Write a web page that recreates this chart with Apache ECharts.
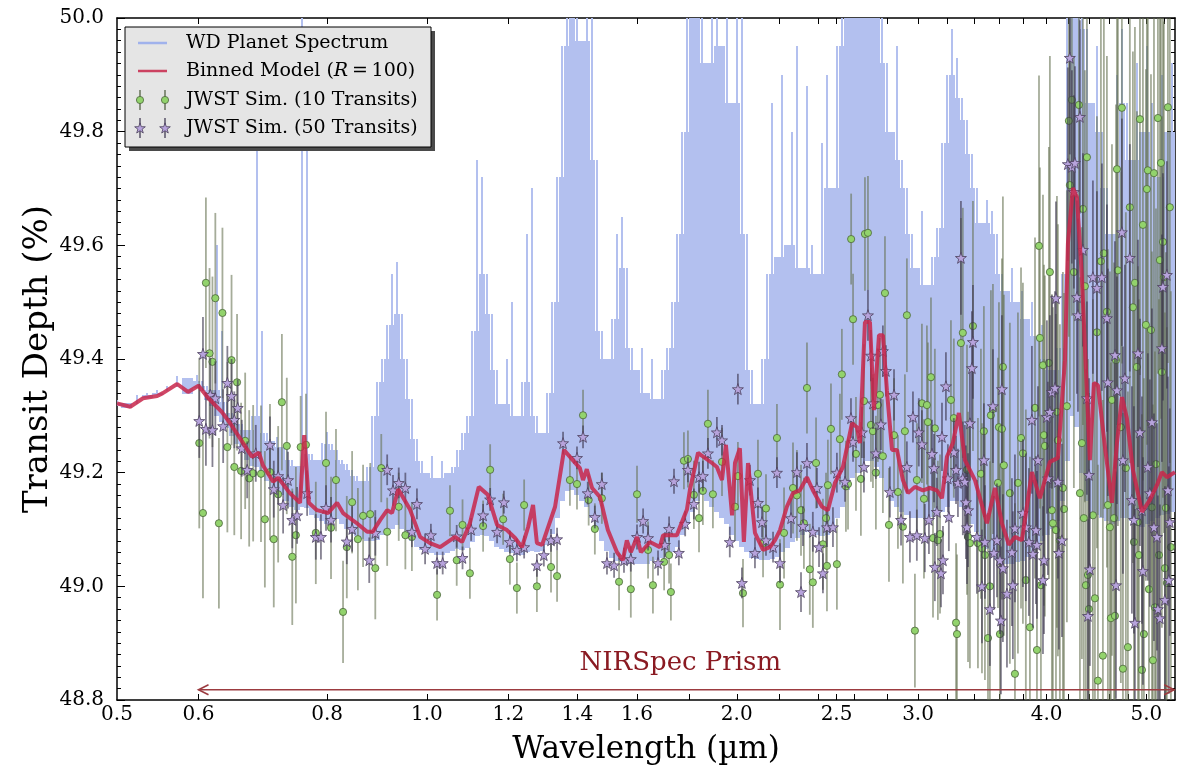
<!DOCTYPE html>
<html>
<head>
<meta charset="utf-8">
<script src="https://cdn.jsdelivr.net/npm/echarts@6/dist/echarts.min.js"></script>
<style>
html,body{margin:0;padding:0;background:#fff}
#chart{width:1180px;height:776px}
</style>
</head>
<body>
<div id="chart"></div>
<script>
// ---------------- data ----------------
// High-resolution planet spectrum: lower edge and spike tops (transit depth, %)
const specWl = [
0.500,0.511,0.523,0.535,0.547,0.559,0.572,0.585,0.598,0.605,
0.612,0.618,0.625,0.632,0.640,0.647,0.654,0.661,0.669,0.676,
0.684,0.692,0.699,0.707,0.715,0.723,0.731,0.740,0.748,0.756,
0.765,0.773,0.782,0.791,0.800,0.809,0.818,0.827,0.836,0.846,
0.855,0.865,0.875,0.885,0.895,0.905,0.915,0.925,0.935,0.946,
0.957,0.967,0.978,0.989,1.000,1.011,1.023,1.034,1.046,1.058,
1.069,1.081,1.094,1.106,1.118,1.131,1.144,1.157,1.170,1.183,
1.196,1.209,1.223,1.237,1.251,1.265,1.279,1.293,1.308,1.323,
1.338,1.353,1.368,1.383,1.399,1.415,1.430,1.447,1.463,1.479,
1.496,1.513,1.530,1.547,1.564,1.582,1.600,1.618,1.636,1.654,
1.673,1.692,1.711,1.730,1.749,1.769,1.789,1.809,1.830,1.850,
1.871,1.892,1.913,1.935,1.956,1.978,2.001,2.023,2.046,2.069,
2.092,2.116,2.140,2.164,2.188,2.213,2.237,2.263,2.288,2.314,
2.340,2.366,2.393,2.420,2.447,2.474,2.502,2.530,2.559,2.588,
2.617,2.646,2.676,2.706,2.736,2.767,2.798,2.830,2.862,2.894,
2.926,2.959,2.992,3.026,3.060,3.095,3.129,3.165,3.200,3.236,
3.273,3.309,3.347,3.384,3.422,3.461,3.500,3.539,3.579,3.619,
3.660,3.701,3.743,3.785,3.827,3.870,3.914,3.958,4.002,4.047,
4.093,4.139,4.185,4.232,4.280,4.328,4.377,4.426,4.476,4.526,
4.577,4.629,4.681,4.733,4.786,4.840,4.895,4.950,5.005,5.062,
5.119,5.176,5.234,5.293
];
const specLo = [
49.318,49.313,49.327,49.331,49.336,49.345,49.352,49.338,49.349,49.344,
49.328,49.318,49.300,49.290,49.278,49.265,49.250,49.236,49.222,49.212,
49.210,49.200,49.186,49.172,49.170,49.160,49.150,49.140,49.135,49.140,
49.138,49.125,49.120,49.115,49.110,49.114,49.118,49.110,49.100,49.092,
49.088,49.084,49.080,49.080,49.082,49.090,49.098,49.100,49.108,49.100,
49.090,49.080,49.070,49.064,49.060,49.058,49.055,49.055,49.058,49.062,
49.066,49.064,49.068,49.078,49.088,49.090,49.088,49.080,49.070,49.065,
49.060,49.058,49.055,49.055,49.060,49.062,49.060,49.062,49.072,49.092,
49.120,49.150,49.168,49.170,49.160,49.150,49.140,49.120,49.100,49.080,
49.062,49.050,49.045,49.042,49.040,49.040,49.040,49.040,49.040,49.044,
49.046,49.050,49.055,49.060,49.070,49.090,49.110,49.130,49.150,49.160,
49.150,49.140,49.130,49.120,49.110,49.090,49.080,49.070,49.060,49.050,
49.048,49.046,49.046,49.048,49.052,49.060,49.068,49.078,49.085,49.090,
49.095,49.095,49.090,49.088,49.090,49.100,49.120,49.140,49.170,49.190,
49.200,49.210,49.220,49.220,49.210,49.190,49.170,49.150,49.140,49.130,
49.125,49.120,49.120,49.120,49.120,49.122,49.125,49.130,49.140,49.150,
49.150,49.140,49.130,49.110,49.095,49.080,49.065,49.055,49.048,49.042,
49.040,49.040,49.042,49.045,49.052,49.060,49.070,49.080,49.090,49.100,
49.115,49.150,49.220,49.300,49.280,49.200,49.150,49.130,49.125,49.120,
49.115,49.110,49.115,49.120,49.120,49.115,49.110,49.105,49.110,49.115,
49.120,49.125,49.128,49.130
];
const specHi = [
49.328,49.322,49.337,49.341,49.346,49.352,49.370,49.366,49.372,49.362,
49.352,49.345,49.600,49.450,49.325,49.305,49.295,49.285,49.275,49.300,
49.800,49.450,49.270,49.255,49.262,49.245,49.252,49.222,49.212,50.050,
49.800,49.232,49.222,49.252,49.272,49.250,49.240,49.222,49.215,49.205,
49.195,49.185,49.210,49.300,49.360,49.400,49.460,49.550,49.570,49.480,
49.400,49.330,49.260,49.220,49.200,49.230,49.190,49.220,49.200,49.210,
49.240,49.270,49.300,49.450,49.750,49.720,49.550,49.480,49.380,49.320,
49.400,49.500,49.300,49.360,49.620,49.700,49.300,49.270,49.340,49.500,
49.720,49.950,50.050,50.050,50.050,49.960,50.050,50.050,49.750,49.450,
49.400,49.470,49.620,49.650,49.560,49.420,49.380,49.420,49.340,49.400,
49.330,49.380,49.420,49.500,49.620,49.800,50.050,50.050,50.050,50.050,
49.920,50.050,50.050,49.950,50.050,49.850,50.050,50.050,49.620,49.380,
49.320,49.400,49.550,49.850,49.580,49.900,49.600,49.800,49.950,49.560,
49.880,49.600,49.550,49.780,49.900,49.700,49.950,50.050,50.050,50.050,
50.050,50.050,50.050,50.050,50.050,50.050,49.920,49.800,49.950,49.750,
49.700,49.620,49.560,49.660,49.530,49.580,49.630,49.780,49.900,49.980,
49.930,49.860,49.820,49.760,49.700,49.640,49.680,49.660,49.620,49.550,
49.520,49.560,49.500,49.520,49.470,49.500,49.440,49.460,49.400,49.380,
49.420,49.550,50.050,50.050,50.050,50.050,49.980,49.850,49.950,49.800,
49.700,49.620,49.900,49.980,49.850,49.750,49.920,49.800,49.950,49.850,
49.720,49.900,49.800,49.920
];

// Model binned to R = 100
const modelWl = [
0.500,0.515,0.530,0.547,0.554,0.572,0.586,0.600,0.612,0.625,
0.632,0.644,0.663,0.676,0.687,0.693,0.709,0.717,0.736,0.753,
0.760,0.768,0.782,0.802,0.818,0.829,0.855,0.875,0.886,0.901,
0.915,0.925,0.938,0.963,0.985,1.007,1.030,1.053,1.065,1.082,
1.101,1.123,1.146,1.170,1.196,1.218,1.237,1.254,1.268,1.279,
1.294,1.332,1.359,1.386,1.408,1.418,1.430,1.447,1.473,1.499,
1.530,1.550,1.564,1.578,1.600,1.614,1.647,1.684,1.696,1.749,
1.761,1.789,1.801,1.834,1.892,1.913,1.935,1.952,1.979,1.992,
2.014,2.032,2.051,2.083,2.121,2.154,2.178,2.203,2.237,2.268,
2.303,2.340,2.371,2.420,2.452,2.491,2.536,2.588,2.617,2.634,
2.664,2.694,2.718,2.749,2.773,2.798,2.830,2.862,2.900,2.933,
2.979,3.033,3.081,3.129,3.165,3.200,3.243,3.287,3.332,3.407,
3.500,3.563,3.619,3.676,3.726,3.785,3.870,3.940,4.029,4.102,
4.167,4.195,4.242,4.280,4.328,4.377,4.406,4.446,4.486,4.557,
4.629,4.681,4.734,4.786,4.851,4.950,5.039,5.119,5.176,5.234,
5.330
];
const modelDepth = [
49.322,49.316,49.331,49.335,49.340,49.356,49.342,49.353,49.333,49.316,
49.307,49.287,49.252,49.228,49.235,49.213,49.184,49.191,49.164,49.147,
49.266,49.147,49.134,49.129,49.147,49.129,49.111,49.096,49.096,49.117,
49.134,49.129,49.171,49.135,49.087,49.076,49.069,49.081,49.087,49.078,
49.111,49.175,49.161,49.108,49.099,49.085,49.069,49.104,49.143,49.076,
49.073,49.140,49.240,49.222,49.208,49.187,49.206,49.173,49.157,49.099,
49.060,49.046,49.081,49.060,49.087,49.060,49.078,49.069,49.090,49.090,
49.104,49.135,49.170,49.235,49.217,49.210,49.187,49.249,49.125,49.217,
49.243,49.078,49.217,49.094,49.064,49.069,49.081,49.099,49.140,49.164,
49.169,49.192,49.169,49.140,49.134,49.182,49.210,49.287,49.280,49.252,
49.465,49.465,49.310,49.442,49.442,49.345,49.240,49.240,49.187,49.164,
49.175,49.169,49.173,49.169,49.155,49.228,49.252,49.305,49.222,49.187,
49.111,49.173,49.111,49.073,49.087,49.081,49.201,49.155,49.219,49.226,
49.398,49.604,49.701,49.685,49.544,49.340,49.222,49.358,49.354,49.245,
49.147,49.252,49.333,49.296,49.205,49.131,49.152,49.178,49.201,49.192,
49.201
];

// Simulated JWST points, 10 transits: [wavelength, depth]
const sim10 = [
[0.601,49.252],[0.606,49.129],[0.610,49.534],[0.615,49.410],[0.619,49.395],[0.623,49.507],[0.628,49.111],[0.633,49.481],
[0.640,49.245],[0.646,49.398],[0.650,49.210],[0.654,49.359],[0.660,49.203],[0.666,49.256],[0.672,49.190],[0.678,49.199],
[0.690,49.198],[0.696,49.118],[0.704,49.201],[0.710,49.083],[0.717,49.162],[0.723,49.324],[0.731,49.247],[0.740,49.052],
[0.746,49.090],[0.754,49.245],[0.763,49.249],[0.780,49.094],[0.798,49.217],[0.807,49.103],[0.816,49.187],[0.829,48.955],
[0.836,49.069],[0.846,49.148],[0.857,49.083],[0.867,49.124],[0.881,49.127],[0.891,49.032],[0.903,49.208],[0.915,49.096],
[0.939,49.140],[0.953,49.090],[0.967,49.087],[1.023,48.985],[1.053,49.133],[1.069,49.046],[1.083,49.108],[1.101,49.023],
[1.134,49.106],[1.152,49.205],[1.186,49.118],[1.204,49.048],[1.223,48.997],[1.243,49.143],[1.279,49.000],[1.320,49.034],
[1.338,49.018],[1.377,49.187],[1.399,49.180],[1.418,49.301],[1.436,49.152],[1.456,49.101],[1.479,49.155],[1.537,49.008],
[1.578,48.995],[1.600,49.162],[1.640,49.064],[1.658,49.002],[1.700,49.043],[1.719,49.055],[1.726,48.990],[1.777,49.221],
[1.793,49.224],[1.817,49.161],[1.838,49.120],[1.854,49.168],[1.875,49.286],[1.896,49.162],[1.935,49.219],[1.992,49.140],
[2.005,49.194],[2.028,48.988],[2.097,49.198],[2.121,49.076],[2.135,49.137],[2.188,49.261],[2.203,49.003],[2.223,49.094],
[2.268,49.173],[2.288,49.160],[2.309,49.134],[2.324,49.111],[2.340,49.349],[2.355,49.030],[2.371,49.007],[2.388,49.217],
[2.425,49.074],[2.442,49.120],[2.447,49.036],[2.452,49.178],[2.469,49.277],[2.502,49.039],[2.519,49.259],[2.530,49.373],
[2.553,49.176],[2.565,49.180],[2.583,49.611],[2.594,49.470],[2.611,49.233],[2.640,49.189],[2.658,49.326],[2.664,49.620],
[2.682,49.622],[2.700,49.284],[2.712,49.273],[2.730,49.200],[2.742,49.319],[2.755,49.337],[2.773,49.229],[2.786,49.516],
[2.811,49.108],[2.843,49.266],[2.868,49.166],[2.900,49.105],[2.913,49.273],[2.926,49.477],[2.979,48.922],[2.992,49.187],
[3.026,49.322],[3.040,49.154],[3.060,49.319],[3.067,49.289],[3.088,49.368],[3.102,49.085],[3.115,49.278],[3.136,49.081],
[3.151,49.092],[3.229,49.328],[3.250,49.296],[3.266,48.936],[3.273,48.916],[3.302,49.428],[3.316,49.446],[3.347,49.205],
[3.355,49.087],[3.369,49.076],[3.392,49.458],[3.430,49.076],[3.453,49.198],[3.461,49.067],[3.476,49.273],[3.484,49.055],
[3.508,48.909],[3.523,49.000],[3.531,49.301],[3.547,49.312],[3.587,49.182],[3.595,49.280],[3.603,48.916],[3.619,49.277],
[3.627,49.386],[3.635,49.213],[3.684,49.164],[3.726,48.846],[3.751,49.182],[3.777,49.261],[3.793,49.234],[3.818,49.011],
[3.853,48.928],[3.897,49.314],[3.914,48.888],[3.932,49.599],[3.940,49.437],[3.949,49.002],[3.967,49.389],[3.976,49.266],
[3.984,49.247],[4.020,49.393],[4.029,49.553],[4.047,49.134],[4.056,49.111],[4.084,49.099],[4.093,49.307],[4.102,49.257],
[4.120,49.081],[4.148,49.173],[4.158,49.136],[4.185,49.317],[4.204,49.819],[4.213,49.706],[4.232,49.856],[4.251,49.553],
[4.299,49.847],[4.309,49.164],[4.328,49.252],[4.338,49.664],[4.347,49.120],[4.357,49.528],[4.367,49.002],[4.377,49.755],
[4.387,49.020],[4.397,48.960],[4.436,49.125],[4.456,48.979],[4.476,49.447],[4.486,48.834],[4.516,49.572],[4.536,48.878],
[4.546,49.586],[4.577,49.483],[4.587,49.143],[4.608,49.104],[4.618,48.944],[4.629,49.328],[4.650,49.120],[4.660,48.948],
[4.671,49.398],[4.681,49.734],[4.691,49.556],[4.722,49.280],[4.733,49.842],[4.744,48.855],[4.775,49.208],[4.797,48.893],
[4.818,49.667],[4.851,49.491],[4.862,49.078],[4.873,49.534],[4.895,49.386],[4.906,49.113],[4.917,49.055],[4.928,49.822],
[4.950,48.853],[4.961,49.636],[4.972,48.916],[4.994,49.460],[5.005,49.699],[5.016,49.732],[5.028,48.995],[5.051,49.451],
[5.062,49.139],[5.073,48.870],[5.085,49.727],[5.096,48.963],[5.108,49.215],[5.130,49.824],[5.142,49.055],[5.153,49.574],
[5.165,49.745],[5.176,49.377],[5.188,49.606],[5.199,49.544],[5.211,49.032],[5.222,49.138],[5.234,49.006],[5.246,49.843],
[5.269,49.667],[5.281,49.069]
];

// Simulated JWST points, 50 transits: [wavelength, depth]
const sim50 = [
[0.601,49.291],[0.606,49.409],[0.610,49.277],[0.616,49.337],[0.619,49.275],[0.623,49.331],[0.634,49.282],[0.640,49.358],
[0.646,49.335],[0.650,49.293],[0.655,49.314],[0.661,49.243],[0.669,49.205],[0.682,49.234],[0.704,49.249],[0.710,49.171],
[0.717,49.194],[0.725,49.143],[0.733,49.187],[0.740,49.117],[0.748,49.125],[0.765,49.164],[0.780,49.087],[0.789,49.087],
[0.798,49.138],[0.807,49.117],[0.836,49.079],[0.846,49.101],[0.879,49.046],[0.891,49.094],[0.915,49.205],[0.927,49.169],
[0.939,49.182],[0.953,49.173],[0.967,49.096],[0.978,49.145],[0.996,49.066],[1.009,49.090],[1.023,49.041],[1.036,49.041],
[1.069,49.088],[1.083,49.050],[1.104,49.100],[1.134,49.125],[1.152,49.153],[1.170,49.096],[1.188,49.148],[1.204,49.078],
[1.223,49.064],[1.243,49.069],[1.279,49.037],[1.299,49.055],[1.320,49.081],[1.338,49.083],[1.356,49.252],[1.399,49.226],
[1.418,49.263],[1.433,49.164],[1.456,49.122],[1.479,49.180],[1.496,49.041],[1.520,49.037],[1.554,49.046],[1.578,49.048],
[1.600,49.087],[1.622,49.115],[1.640,49.085],[1.677,49.041],[1.703,49.073],[1.719,49.101],[1.738,49.185],[1.757,49.059],
[1.782,49.110],[1.793,49.205],[1.817,49.145],[1.838,49.192],[1.854,49.194],[1.875,49.234],[1.913,49.271],[1.935,49.257],
[1.969,49.078],[2.005,49.347],[2.023,49.006],[2.060,49.187],[2.083,49.059],[2.097,49.147],[2.116,49.113],[2.135,49.081],
[2.169,49.069],[2.188,49.200],[2.203,49.041],[2.258,49.120],[2.288,49.201],[2.309,48.990],[2.319,49.106],[2.340,49.217],
[2.371,49.096],[2.393,49.173],[2.404,49.069],[2.425,49.023],[2.447,49.104],[2.480,49.104],[2.502,49.200],[2.548,49.184],
[2.582,49.296],[2.594,49.254],[2.646,49.271],[2.658,49.210],[2.682,49.477],[2.700,49.406],[2.712,49.322],[2.730,49.234],
[2.761,49.285],[2.773,49.414],[2.792,49.379],[2.817,49.166],[2.843,49.337],[2.888,49.117],[2.926,49.210],[2.946,49.087],
[2.966,49.298],[2.992,49.090],[3.005,49.271],[3.026,49.250],[3.046,49.085],[3.074,49.117],[3.095,49.233],[3.109,49.208],
[3.115,49.034],[3.129,49.131],[3.158,49.023],[3.165,49.263],[3.172,49.046],[3.193,49.352],[3.207,49.190],[3.214,49.122],
[3.250,49.236],[3.266,49.205],[3.280,49.182],[3.302,49.578],[3.316,49.190],[3.331,49.184],[3.339,49.148],[3.347,49.104],
[3.355,49.134],[3.369,49.287],[3.384,49.384],[3.392,49.430],[3.422,49.087],[3.461,49.000],[3.476,49.222],[3.484,49.078],
[3.523,48.960],[3.547,49.317],[3.555,49.059],[3.579,49.081],[3.603,49.046],[3.611,48.940],[3.619,49.347],[3.627,49.032],
[3.660,48.987],[3.701,49.060],[3.709,49.002],[3.726,49.102],[3.793,49.129],[3.818,49.104],[3.844,49.078],[3.870,49.293],
[3.879,49.057],[3.905,49.099],[3.914,49.073],[3.923,49.222],[3.967,49.011],[3.976,49.046],[4.002,49.298],[4.011,49.190],
[4.029,49.307],[4.047,49.342],[4.075,49.349],[4.084,49.507],[4.102,49.184],[4.111,49.059],[4.139,49.081],[4.194,49.743],
[4.213,49.930],[4.232,49.738],[4.251,49.694],[4.261,49.745],[4.280,49.509],[4.290,49.477],[4.309,49.826],[4.338,49.592],
[4.377,49.331],[4.387,48.948],[4.397,49.196],[4.406,49.030],[4.436,49.544],[4.476,49.525],[4.526,49.544],[4.577,49.472],
[4.587,49.359],[4.660,49.407],[4.671,49.002],[4.681,49.345],[4.733,49.623],[4.744,49.222],[4.765,49.366],[4.818,49.578],
[4.840,49.152],[4.862,49.117],[4.873,48.936],[4.906,49.410],[4.928,49.271],[4.950,49.134],[4.961,49.027],[5.016,49.210],
[5.039,49.164],[5.062,49.289],[5.085,49.104],[5.119,49.087],[5.130,48.960],[5.153,48.944],[5.176,49.419],[5.188,49.527],
[5.211,48.976],[5.234,49.548],[5.246,49.169],[5.257,49.011],[5.269,49.113]
];

// 1-sigma uncertainty per wavelength band (upper band edges in µm)
const errBandEdges = [0.65, 0.75, 0.90, 1.00, 1.50, 1.80, 2.20, 2.60, 3.00, 3.30, 3.60, 4.00, 4.50, 6.00];
const sim10Err =     [0.150,0.120,0.090,0.060,0.045,0.050,0.060,0.080,0.100,0.140,0.220,0.300,0.380,0.450];
const sim50Err =     [0.065,0.050,0.040,0.027,0.020,0.022,0.027,0.035,0.045,0.060,0.100,0.130,0.170,0.200];

// Axis ticks and labels (µm)
const xLabelValues = [0.5, 0.6, 0.8, 1.0, 1.2, 1.4, 1.6, 2.0, 2.5, 3.0, 4.0, 5.0];
const xTickValues = [0.6,0.8,1.0,1.2,1.4,1.6,1.8,2.0,2.2,2.4,2.5,2.6,2.8,3.0,3.2,3.4,3.6,3.8,4.0,4.2,4.4,4.6,4.8,5.0,5.2];
const X_MIN = 0.5, X_MAX = 5.33;
const Y_MIN = 48.8, Y_MAX = 50.0, Y_STEP = 0.2;

// Instrument coverage annotation
const prismRange = [0.6, 5.32];
const prismArrowDepth = 48.818;
const prismLabelDepth = 48.864;
const prismLabel = 'NIRSpec Prism';

// Legend entries
const legendLabels = ['WD Planet Spectrum', 'Binned Model ({i|R}\u2009=\u2009100)', 'JWST Sim. (10 Transits)', 'JWST Sim. (50 Transits)'];

// ---------------- styling ----------------
const FONT = 'DejaVu Serif';
const SPEC_COLOR = 'rgb(179,192,239)';
const MODEL_COLOR = 'rgba(200,38,74,0.85)';
const G_FILL = '#92d36c', G_EDGE = '#4b633c', G_BAR = 'rgba(100,112,80,0.58)';
const S_FILL = '#b7a3dc', S_EDGE = '#4a3f5c', S_BAR = 'rgba(58,52,76,0.62)';
const ARROW_COLOR = '#9c3b40';
const LABEL_RED = '#8a1a22';
const STAR = [[0,-1],[0.235,-0.324],[0.951,-0.309],[0.38,0.124],[0.588,0.809],[0,0.4],[-0.588,0.809],[-0.38,0.124],[-0.951,-0.309],[-0.235,-0.324]];
const STAR_PATH = 'path://' + STAR.map((p, i) => (i ? 'L' : 'M') + (p[0] * 10).toFixed(2) + ',' + (p[1] * 10).toFixed(2)).join('') + 'Z';

const ln = Math.log;
const clampY = v => Math.max(Y_MIN, Math.min(Y_MAX, v));
function bandErr(wl, table) {
  for (let i = 0; i < errBandEdges.length; i++) if (wl < errBandEdges[i]) return table[i];
  return table[table.length - 1];
}

// spectrum columns: [x, lo, hi, solid-core top, x of previous, x of next]
const specData = specWl.map((w, i) => {
  const n = specWl.length;
  const hPrev = i > 0 ? specHi[i - 1] : specHi[i];
  const hNext = i < n - 1 ? specHi[i + 1] : specHi[i];
  const core = Math.min(specHi[i], hPrev, hNext);
  return [ln(w), specLo[i], specHi[i], core, ln(i > 0 ? specWl[i - 1] : w), ln(i < n - 1 ? specWl[i + 1] : w)];
});
const modelData = modelWl.map((w, i) => [ln(w), modelDepth[i]]);
const sim10Pts = sim10.map(p => [ln(p[0]), p[1]]);
const sim50Pts = sim50.map(p => [ln(p[0]), p[1]]);
const sim10Bars = sim10.map(p => [ln(p[0]), p[1], bandErr(p[0], sim10Err)]);
const sim50Bars = sim50.map(p => [ln(p[0]), p[1], bandErr(p[0], sim50Err)]);

function renderSpectrum(params, api) {
  const x = api.coord([api.value(0), Y_MIN])[0];
  const xp = api.coord([api.value(4), Y_MIN])[0];
  const xn = api.coord([api.value(5), Y_MIN])[0];
  let hl = (x - xp) / 2, hr = (xn - x) / 2;
  if (!(hl > 0)) hl = hr;
  if (!(hr > 0)) hr = hl;
  const yLo = api.coord([api.value(0), clampY(api.value(1))])[1];
  const yHi = api.coord([api.value(0), clampY(api.value(2))])[1];
  const yCore = api.coord([api.value(0), clampY(api.value(3))])[1];
  // snap to whole pixels so neighbouring columns join without seams
  const x0 = Math.floor(x - hl), x1 = Math.ceil(x + hr);
  const children = [{
    type: 'rect',
    shape: { x: x0, y: Math.round(yCore), width: x1 - x0, height: Math.max(0, Math.round(yLo) - Math.round(yCore)) },
    style: { fill: SPEC_COLOR }
  }];
  if (yHi < yCore - 0.5) {
    const sx = Math.round(x - 1);
    children.push({ type: 'rect', shape: { x: sx, y: Math.round(yHi), width: 2, height: Math.round(yCore) - Math.round(yHi) + 1 }, style: { fill: SPEC_COLOR } });
  }
  return { type: 'group', children };
}

function errorBarRenderer(color) {
  return function (params, api) {
    const x = api.value(0), y = api.value(1), e = api.value(2);
    const p0 = api.coord([x, clampY(y - e)]);
    const p1 = api.coord([x, clampY(y + e)]);
    return { type: 'line', shape: { x1: p0[0], y1: p0[1], x2: p1[0], y2: p1[1] }, style: { stroke: color, lineWidth: 1.8 } };
  };
}

function renderPrism(params, api) {
  const p0 = api.coord([api.value(0), api.value(2)]);
  const p1 = api.coord([api.value(1), api.value(2)]);
  const pt = api.coord([(api.value(0) + api.value(1)) / 2, api.value(3)]);
  const h = 10, v = 5;
  const st = { stroke: ARROW_COLOR, lineWidth: 1.6, fill: null };
  return {
    type: 'group',
    children: [
      { type: 'line', shape: { x1: p0[0], y1: p0[1], x2: p1[0], y2: p1[1] }, style: st },
      { type: 'polyline', shape: { points: [[p0[0] + h, p0[1] - v], [p0[0], p0[1]], [p0[0] + h, p0[1] + v]] }, style: st },
      { type: 'polyline', shape: { points: [[p1[0] - h, p1[1] - v], [p1[0], p1[1]], [p1[0] - h, p1[1] + v]] }, style: st },
      { type: 'text', x: pt[0] - 6, y: pt[1],
        style: { text: prismLabel, fill: LABEL_RED, font: '26px "' + FONT + '"', align: 'center', verticalAlign: 'middle', textAlign: 'center', textVerticalAlign: 'middle' } }
    ]
  };
}

// ---------------- legend (drawn as graphic) ----------------
function legendGraphic() {
  const L = 125, T = 27, W = 306, H = 120;
  const rows = [43, 71, 100, 128];
  const hx0 = 138, hx1 = 167, tx = 186;
  const els = [
    { type: 'rect', shape: { x: L + 4, y: T + 4, width: W, height: H }, style: { fill: '#4a4a4a' }, z: 100 },
    { type: 'rect', shape: { x: L, y: T, width: W, height: H }, style: { fill: '#e5e5e5', stroke: '#000', lineWidth: 1 }, z: 101 },
    { type: 'line', shape: { x1: hx0, y1: rows[0], x2: hx1, y2: rows[0] }, style: { stroke: 'rgb(160,178,236)', lineWidth: 2.5 }, z: 102 },
    { type: 'line', shape: { x1: hx0, y1: rows[1], x2: hx1, y2: rows[1] }, style: { stroke: MODEL_COLOR, lineWidth: 2.5 }, z: 102 }
  ];
  [hx0 + 2, hx1 - 2].forEach(cx => {
    els.push({ type: 'line', shape: { x1: cx, y1: rows[2] - 10, x2: cx, y2: rows[2] + 10 }, style: { stroke: 'rgba(80,95,65,0.8)', lineWidth: 1.6 }, z: 102 });
    els.push({ type: 'circle', shape: { cx: cx, cy: rows[2], r: 3.6 }, style: { fill: G_FILL, stroke: G_EDGE, lineWidth: 0.8 }, z: 103 });
    els.push({ type: 'line', shape: { x1: cx, y1: rows[3] - 10, x2: cx, y2: rows[3] + 10 }, style: { stroke: 'rgba(62,55,80,0.8)', lineWidth: 1.6 }, z: 102 });
    els.push({ type: 'polygon', shape: { points: STAR.map(p => [cx + p[0] * 5.6, rows[3] + p[1] * 5.6 + 0.5]) }, style: { fill: S_FILL, stroke: S_EDGE, lineWidth: 0.8 }, z: 103 });
  });
  legendLabels.forEach((t, i) => {
    els.push({
      type: 'text', x: tx, y: rows[i], z: 104,
      style: {
        text: t, fill: '#000', font: '19px "' + FONT + '"', verticalAlign: 'middle', textVerticalAlign: 'middle',
        rich: { i: { fontStyle: 'italic', fontFamily: FONT, fontSize: 19, fill: '#000' } }
      }
    });
  });
  return els;
}

// ---------------- chart ----------------
const axisLineStyle = { color: '#000', width: 1.5 };
const baseX = {
  type: 'value', min: ln(X_MIN), max: ln(X_MAX),
  axisLine: { show: true, onZero: false, lineStyle: axisLineStyle },
  axisTick: { show: true, inside: true, length: 6, lineStyle: { color: '#000', width: 1 }, customValues: xTickValues.map(ln) },
  splitLine: { show: false }
};
const baseY = {
  type: 'value', min: Y_MIN, max: Y_MAX, interval: Y_STEP,
  axisLine: { show: true, onZero: false, lineStyle: axisLineStyle },
  axisTick: { show: true, inside: true, length: 8, lineStyle: { color: '#000', width: 1 } },
  minorTick: { show: true, splitNumber: 10, length: 4, lineStyle: { color: '#000', width: 1 } },
  splitLine: { show: false }, minorSplitLine: { show: false }
};

const chart = echarts.init(document.getElementById('chart'), null, { renderer: 'canvas' });
chart.setOption({
  animation: false,
  backgroundColor: '#fff',
  grid: { left: 117, right: 5, top: 18, bottom: 76, containLabel: false },
  xAxis: [
    Object.assign({}, baseX, {
      position: 'bottom',
      axisLabel: { show: true, customValues: xLabelValues.map(ln), formatter: v => Math.exp(v).toFixed(1),
        color: '#000', fontFamily: FONT, fontSize: 20, margin: 5 },
      name: 'Wavelength (\u00b5m)', nameLocation: 'middle', nameGap: 34,
      nameTextStyle: { color: '#000', fontFamily: FONT, fontSize: 31 }
    }),
    Object.assign({}, baseX, { position: 'top', axisLabel: { show: false } })
  ],
  yAxis: [
    Object.assign({}, baseY, {
      position: 'left',
      axisLabel: { color: '#000', fontFamily: FONT, fontSize: 20, margin: 13, formatter: v => v.toFixed(1) },
      name: 'Transit Depth (%)', nameLocation: 'middle', nameGap: 62, nameMoveOverlap: false,
      nameTextStyle: { color: '#000', fontFamily: FONT, fontSize: 34 }
    }),
    Object.assign({}, baseY, { position: 'right', axisLabel: { show: false } })
  ],
  series: [
    { name: 'WD Planet Spectrum', type: 'custom', renderItem: renderSpectrum, data: specData,
      encode: { x: 0, y: 1 }, clip: true, silent: true, z: 1 },
    { name: 'sim10 bars', type: 'custom', renderItem: errorBarRenderer(G_BAR), data: sim10Bars,
      encode: { x: 0, y: 1 }, clip: true, silent: true, z: 2 },
    { name: 'JWST Sim. (10 Transits)', type: 'scatter', data: sim10Pts, symbol: 'circle', symbolSize: 7.2,
      itemStyle: { color: G_FILL, borderColor: G_EDGE, borderWidth: 0.8, opacity: 1 }, silent: true, z: 3 },
    { name: 'sim50 bars', type: 'custom', renderItem: errorBarRenderer(S_BAR), data: sim50Bars,
      encode: { x: 0, y: 1 }, clip: true, silent: true, z: 4 },
    { name: 'JWST Sim. (50 Transits)', type: 'scatter', data: sim50Pts, symbol: STAR_PATH, symbolSize: 11,
      itemStyle: { color: S_FILL, borderColor: S_EDGE, borderWidth: 0.8, opacity: 1 }, silent: true, z: 5 },
    { name: 'Binned Model', type: 'line', data: modelData, showSymbol: false, symbol: 'none',
      lineStyle: { color: MODEL_COLOR, width: 4 }, clip: true, silent: true, z: 6 },
    { name: 'prism', type: 'custom', renderItem: renderPrism,
      data: [[ln(prismRange[0]), ln(prismRange[1]), prismArrowDepth, prismLabelDepth]],
      encode: { x: [0, 1], y: [2, 3] }, clip: false, silent: true, z: 7 }
  ],
  graphic: legendGraphic()
});
</script>
</body>
</html>
